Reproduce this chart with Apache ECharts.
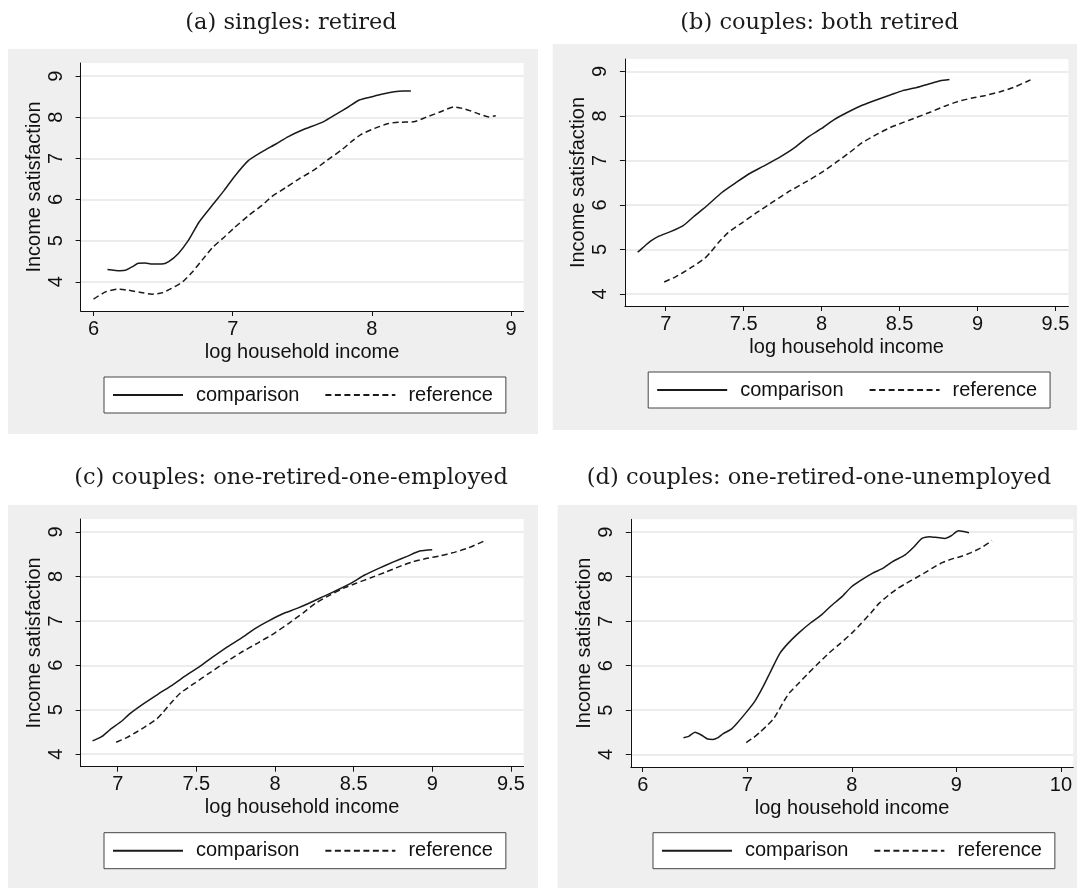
<!DOCTYPE html>
<html>
<head>
<meta charset="utf-8">
<script src="https://cdn.jsdelivr.net/npm/echarts@6/dist/echarts.min.js"></script>
<style>
  html, body { margin: 0; padding: 0; background: #fff; }
  #main { width: 1077px; height: 888px; }
</style>
</head>
<body>
<div id="main"></div>
<script>
// values: [log household income, income satisfaction]
const singlesComparison = [
  [6.10, 4.30], [6.19, 4.27], [6.23, 4.28], [6.28, 4.37], [6.32, 4.45], [6.37, 4.46],
  [6.42, 4.43], [6.49, 4.43], [6.54, 4.49], [6.61, 4.69], [6.68, 5.00], [6.76, 5.46],
  [6.86, 5.89], [6.94, 6.23], [7.01, 6.55], [7.11, 6.94], [7.21, 7.16], [7.31, 7.35],
  [7.40, 7.53], [7.50, 7.69], [7.65, 7.89], [7.75, 8.09], [7.83, 8.25], [7.91, 8.42],
  [8.00, 8.50], [8.07, 8.56], [8.16, 8.62], [8.22, 8.64], [8.28, 8.64]
]
const singlesReference = [
  [6.00, 3.58], [6.09, 3.76], [6.17, 3.82], [6.24, 3.80], [6.34, 3.74], [6.42, 3.70],
  [6.49, 3.73], [6.56, 3.84], [6.64, 4.00], [6.71, 4.24], [6.79, 4.57], [6.86, 4.85],
  [6.94, 5.09], [7.01, 5.31], [7.11, 5.60], [7.21, 5.86], [7.28, 6.07], [7.38, 6.29],
  [7.48, 6.51], [7.58, 6.71], [7.68, 6.96], [7.78, 7.20], [7.85, 7.40], [7.92, 7.58],
  [8.02, 7.73], [8.12, 7.85], [8.20, 7.88], [8.30, 7.89], [8.39, 8.00], [8.49, 8.13],
  [8.59, 8.25], [8.67, 8.20], [8.77, 8.08], [8.84, 8.01], [8.89, 8.04]
]
const bothRetiredComparison = [
  [6.82, 4.94], [6.85, 5.03], [6.90, 5.18], [6.95, 5.29], [7.03, 5.40], [7.11, 5.53],
  [7.18, 5.74], [7.27, 6.00], [7.36, 6.28], [7.45, 6.50], [7.53, 6.69], [7.62, 6.86],
  [7.73, 7.07], [7.82, 7.27], [7.91, 7.52], [8.00, 7.72], [8.08, 7.92], [8.17, 8.09],
  [8.26, 8.24], [8.35, 8.36], [8.44, 8.47], [8.52, 8.57], [8.61, 8.64], [8.70, 8.73],
  [8.76, 8.79], [8.82, 8.82]
]
const employedComparison = [
  [6.84, 4.30], [6.90, 4.40], [6.95, 4.55], [7.02, 4.73], [7.08, 4.92], [7.17, 5.15],
  [7.26, 5.36], [7.35, 5.56], [7.43, 5.76], [7.52, 5.97], [7.61, 6.20], [7.70, 6.42],
  [7.79, 6.62], [7.87, 6.82], [7.96, 7.00], [8.05, 7.16], [8.14, 7.28], [8.22, 7.40],
  [8.31, 7.55], [8.40, 7.70], [8.49, 7.86], [8.57, 8.03], [8.66, 8.18], [8.75, 8.32],
  [8.84, 8.45], [8.92, 8.57], [9.00, 8.60]
]
const unemployedComparison = [
  [6.39, 4.38], [6.44, 4.41], [6.50, 4.50], [6.56, 4.44], [6.62, 4.35], [6.67, 4.34],
  [6.72, 4.38], [6.77, 4.47], [6.84, 4.56], [6.90, 4.70], [6.98, 4.92], [7.07, 5.19],
  [7.15, 5.52], [7.23, 5.90], [7.31, 6.27], [7.39, 6.50], [7.49, 6.73], [7.61, 6.97],
  [7.71, 7.14], [7.80, 7.34], [7.90, 7.54], [8.00, 7.78], [8.10, 7.94], [8.20, 8.08],
  [8.30, 8.19], [8.39, 8.34], [8.51, 8.49], [8.59, 8.66], [8.67, 8.86], [8.74, 8.90],
  [8.82, 8.88], [8.89, 8.86], [8.95, 8.92], [9.02, 9.03], [9.12, 8.99]
]
// same reference curve in panels b, c and d
const couplesReference = [
  [6.99, 4.27], [7.06, 4.38], [7.12, 4.50], [7.18, 4.63], [7.25, 4.80], [7.29, 4.95],
  [7.34, 5.16], [7.40, 5.38], [7.49, 5.60], [7.58, 5.82], [7.67, 6.03], [7.78, 6.28],
  [7.89, 6.50], [8.00, 6.73], [8.09, 6.95], [8.18, 7.18], [8.26, 7.40], [8.35, 7.58],
  [8.44, 7.74], [8.52, 7.85], [8.61, 7.97], [8.70, 8.09], [8.79, 8.22], [8.87, 8.32],
  [8.96, 8.40], [9.05, 8.46], [9.14, 8.54], [9.23, 8.64], [9.34, 8.81]
]

const panelTitles = [
  '(a) singles: retired',
  '(b) couples: both retired',
  '(c) couples: one-retired-one-employed',
  '(d) couples: one-retired-one-unemployed'
]
const xTicks = [[6, 7, 8, 9], [7, 7.5, 8, 8.5, 9, 9.5], [7, 7.5, 8, 8.5, 9, 9.5], [6, 7, 8, 9, 10]]
const yTicks = [4, 5, 6, 7, 8, 9]
const comparisonSets = [singlesComparison, bothRetiredComparison, employedComparison, unemployedComparison]
const referenceSets = [singlesReference, couplesReference, couplesReference, couplesReference]

// layout of the four panels
const panels = [
  { bg: [8, 49, 530, 385], grid: [80.6, 63, 443, 248], x: [5.907, 9.09], y: [3.29, 9.32], title: [291, 23], legend: [104, 377] },
  { bg: [552.7, 44, 525, 386], grid: [624.9, 59, 443.5, 247], x: [6.738, 9.583], y: [3.73, 9.28], title: [819.5, 23], legend: [648.2, 372] },
  { bg: [8, 505, 530, 383], grid: [80.6, 519, 443, 247.7], x: [6.764, 9.581], y: [3.72, 9.29], title: [291, 478], legend: [104, 832.7] },
  { bg: [557.7, 505, 520, 383], grid: [630.8, 519.3, 442.5, 247.7], x: [5.886, 10.118], y: [3.72, 9.29], title: [819, 478], legend: [653, 832.7] }
]

const sans = '"Liberation Sans", Arial, sans-serif'
const ink = '#111'

let myChart = echarts.init(document.getElementById('main'))

const grid = [], xAxis = [], yAxis = [], series = [], legend = [], graphic = []

panels.forEach((p, i) => {
  graphic.push({
    type: 'rect', z: -10,
    shape: { x: p.bg[0], y: p.bg[1], width: p.bg[2], height: p.bg[3] },
    style: { fill: '#efefef' }
  })
  graphic.push({
    type: 'text', x: p.title[0], y: p.title[1],
    style: { text: panelTitles[i], align: 'center', verticalAlign: 'middle',
      font: '22.5px "DejaVu Serif", "Liberation Serif", serif', fill: '#1a1a1a' }
  })
  grid.push({
    left: p.grid[0], top: p.grid[1], width: p.grid[2], height: p.grid[3],
    show: true, backgroundColor: '#fff', borderWidth: 0, outerBoundsMode: 'none'
  })
  xAxis.push({
    type: 'value', gridIndex: i, min: p.x[0], max: p.x[1],
    name: 'log household income', nameLocation: 'middle', nameGap: 31,
    nameTextStyle: { fontFamily: sans, fontSize: 20, color: ink },
    axisLine: { onZero: false, lineStyle: { color: ink, width: 1 } },
    axisTick: { length: 5, lineStyle: { color: ink }, customValues: xTicks[i] },
    axisLabel: { fontFamily: sans, fontSize: 20, color: ink, margin: 8, customValues: xTicks[i] },
    splitLine: { show: false }
  })
  yAxis.push({
    type: 'value', gridIndex: i, min: p.y[0], max: p.y[1],
    name: 'Income satisfaction', nameLocation: 'middle', nameGap: 36,
    nameTextStyle: { fontFamily: sans, fontSize: 20, color: ink },
    axisLine: { show: true, onZero: false, lineStyle: { color: ink, width: 1 } },
    axisTick: { show: true, length: 5, lineStyle: { color: ink }, customValues: yTicks },
    axisLabel: { fontFamily: sans, fontSize: 20, color: ink, rotate: 90, margin: 14, customValues: yTicks },
    splitLine: { show: true, lineStyle: { color: '#e6e6e6', width: 1.5 } }
  })
  series.push({
    name: 'comparison', type: 'line', xAxisIndex: i, yAxisIndex: i,
    data: comparisonSets[i], symbol: 'none', smooth: 0.2,
    lineStyle: { color: '#1a1a1a', width: 1.5, type: 'solid' }, itemStyle: { color: '#1a1a1a' }
  })
  series.push({
    name: 'reference', type: 'line', xAxisIndex: i, yAxisIndex: i,
    data: referenceSets[i], symbol: 'none', smooth: 0.2,
    lineStyle: { color: '#1a1a1a', width: 1.5, type: [6, 3.5] }, itemStyle: { color: '#1a1a1a' }
  })
  legend.push({
    left: p.legend[0], top: p.legend[1], orient: 'horizontal',
    data: ['comparison', 'reference'], selectedMode: false,
    itemWidth: 70, itemHeight: 14, itemGap: 25,
    // hide the marker ECharts puts in the middle of a line legend icon
    itemStyle: { opacity: 0 },
    padding: [8, 13, 8, 8], backgroundColor: '#fff', borderColor: '#444', borderWidth: 1, borderRadius: 0,
    textStyle: { fontFamily: sans, fontSize: 20, lineHeight: 20, color: ink, padding: [0, 0, 0, 8] }
  })
})

myChart.setOption({
  animation: false,
  backgroundColor: '#fff',
  grid, xAxis, yAxis, series, legend, graphic
})
</script>
</body>
</html>
